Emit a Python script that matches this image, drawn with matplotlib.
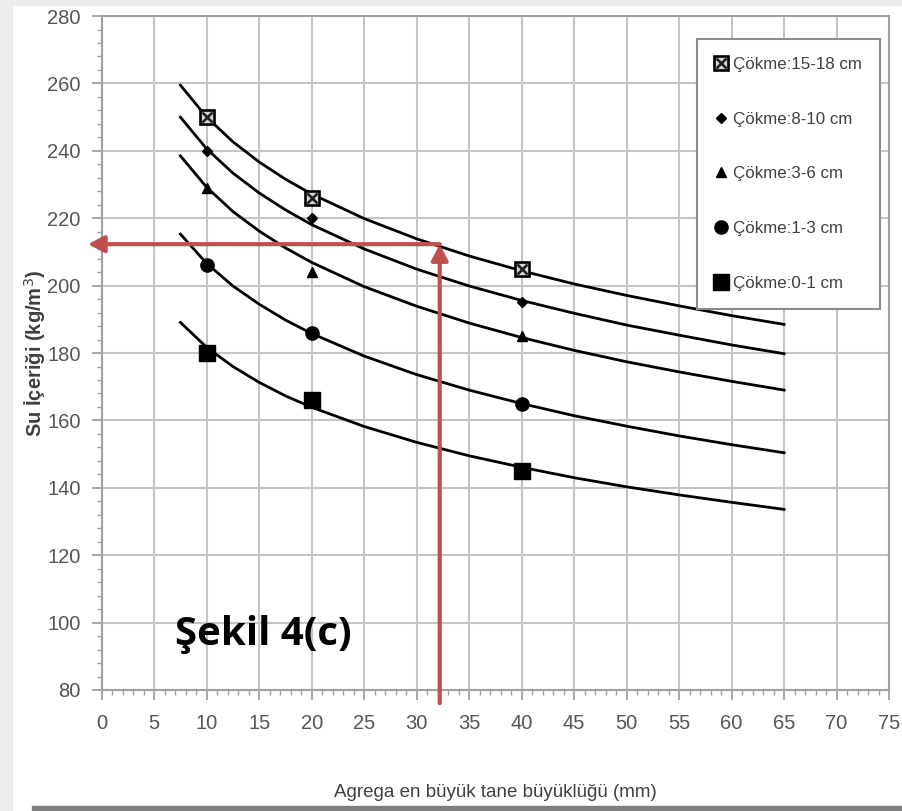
import matplotlib
matplotlib.use("Agg")
import matplotlib.pyplot as plt
from matplotlib.ticker import MultipleLocator
from matplotlib.patches import Rectangle

plt.rcParams['font.family'] = ['Liberation Sans', 'DejaVu Sans']

# measured points (max aggregate size, water content)
x_pts = [10, 20, 40]
slump_15_18 = [250, 226, 205]
slump_8_10 = [240, 220, 195]
slump_3_6 = [229, 204, 185]
slump_1_3 = [206, 186, 165]
slump_0_1 = [180, 166, 145]

# trend curves
x_curve = [7.5, 10, 12.5, 15, 17.5, 20, 25, 30, 35, 40, 45, 50, 55, 60, 65]
curve_15_18 = [259.5, 250.0, 242.7, 236.7, 231.6, 227.2, 219.9, 213.9, 208.8, 204.4, 200.5, 197.1, 194.0, 191.1, 188.5]
curve_8_10 = [250.0, 240.6, 233.4, 227.5, 222.5, 218.1, 210.9, 204.9, 199.9, 195.6, 191.8, 188.3, 185.3, 182.4, 179.8]
curve_3_6 = [238.5, 229.2, 222.0, 216.2, 211.2, 206.9, 199.7, 193.9, 188.9, 184.6, 180.8, 177.4, 174.4, 171.6, 169.0]
curve_1_3 = [215.3, 206.6, 199.9, 194.5, 189.8, 185.8, 179.1, 173.6, 169.0, 165.0, 161.4, 158.3, 155.4, 152.8, 150.4]
curve_0_1 = [189.1, 181.7, 176.0, 171.3, 167.3, 163.9, 158.2, 153.5, 149.5, 146.1, 143.0, 140.3, 137.9, 135.7, 133.6]

labels = ['Çökme:15-18 cm', 'Çökme:8-10 cm', 'Çökme:3-6 cm', 'Çökme:1-3 cm', 'Çökme:0-1 cm']

# reading example: aggregate size -> water content
read_x = 32.2
read_y = 212.3

fig = plt.figure(figsize=(9.02, 8.11), dpi=100)
ax = fig.add_axes([0.1127, 0.1492, 0.873, 0.831])

# outer frame strips
fig.patches.append(Rectangle((0, 0.9935), 1, 0.0065, transform=fig.transFigure, color='#ececec', zorder=0))
fig.patches.append(Rectangle((0, 0), 0.013, 1, transform=fig.transFigure, color='#ececec', zorder=0))
fig.patches.append(Rectangle((0.035, 0), 0.965, 0.006, transform=fig.transFigure, color='#7f7f7f', zorder=0))

line_kw = dict(color='black', lw=2.0, zorder=3)
for yc in [curve_15_18, curve_8_10, curve_3_6, curve_1_3, curve_0_1]:
    ax.plot(x_curve, yc, **line_kw)

h1a, = ax.plot(x_pts, slump_15_18, 's', ms=10, mfc='#d8d8d8', mec='black', mew=1.9, ls='none', zorder=4)
h1b, = ax.plot(x_pts, slump_15_18, 'x', ms=7, mec='#222222', mew=1.9, ls='none', zorder=5)
h2, = ax.plot(x_pts, slump_8_10, 'D', ms=5.5, color='black', ls='none', zorder=4)
h3, = ax.plot(x_pts, slump_3_6, '^', ms=7.5, color='black', ls='none', zorder=4)
h4, = ax.plot(x_pts, slump_1_3, 'o', ms=9.5, color='black', ls='none', zorder=4)
h5, = ax.plot(x_pts, slump_0_1, 's', ms=11, color='black', ls='none', zorder=4)

# red reading arrows
red = '#c0504d'
arrow_kw = dict(arrowstyle='-|>,head_length=0.95,head_width=0.5', color=red, lw=3.0,
                shrinkA=0, shrinkB=0)
ax.annotate('', xy=(read_x, read_y), xytext=(read_x, 76.1), arrowprops=arrow_kw,
            annotation_clip=False, zorder=6)
ax.annotate('', xy=(-1.3, read_y), xytext=(read_x, read_y), arrowprops=arrow_kw,
            annotation_clip=False, zorder=6)

ax.text(7.0, 93.4, 'Şekil 4(c)', fontsize=29, fontweight='bold', family=['Open Sans', 'DejaVu Sans'],
        ha='left', va='baseline', zorder=6)

ax.set_xlim(0, 75)
ax.set_ylim(80, 280)
ax.xaxis.set_major_locator(MultipleLocator(5))
ax.xaxis.set_minor_locator(MultipleLocator(1))
ax.yaxis.set_major_locator(MultipleLocator(20))
ax.yaxis.set_minor_locator(MultipleLocator(4))
ax.grid(True, which='major', color='#c4c4c4', lw=1.5, zorder=0)
ax.set_axisbelow(True)
for s in ax.spines.values():
    s.set_color('#a0a0a0')
    s.set_linewidth(1.5)

ax.tick_params(which='major', direction='out', length=7, width=1.3, color='#a0a0a0',
               labelsize=14.5, labelcolor='#555555')
ax.tick_params(which='minor', direction='out', length=3.5, width=1.0, color='#a0a0a0')
ax.tick_params(axis='x', which='major', pad=10)
ax.tick_params(axis='y', which='major', pad=8)

ax.set_xlabel('Agrega en büyük tane büyüklüğü (mm)', fontsize=13.5, color='#404040', va='center')
ax.xaxis.set_label_coords(0.5, -0.152)
ax.set_ylabel('Su İçeriği (kg/m$^3$)', fontsize=14.5, fontweight='bold', color='#404040', va='center')
ax.yaxis.set_label_coords(-0.084, 0.5)

leg = ax.legend([(h1a, h1b), h2, h3, h4, h5], labels, loc='upper right',
                bbox_to_anchor=(0.988, 0.966), borderaxespad=0, fontsize=12.2,
                labelspacing=2.35, borderpad=1.05, handlelength=0.8, handletextpad=0.3,
                fancybox=False, framealpha=1, edgecolor='#8c8c8c')
leg.get_frame().set_linewidth(1.5)
for t in leg.get_texts():
    t.set_color('#404040')

fig.savefig('out.png', dpi=100)
